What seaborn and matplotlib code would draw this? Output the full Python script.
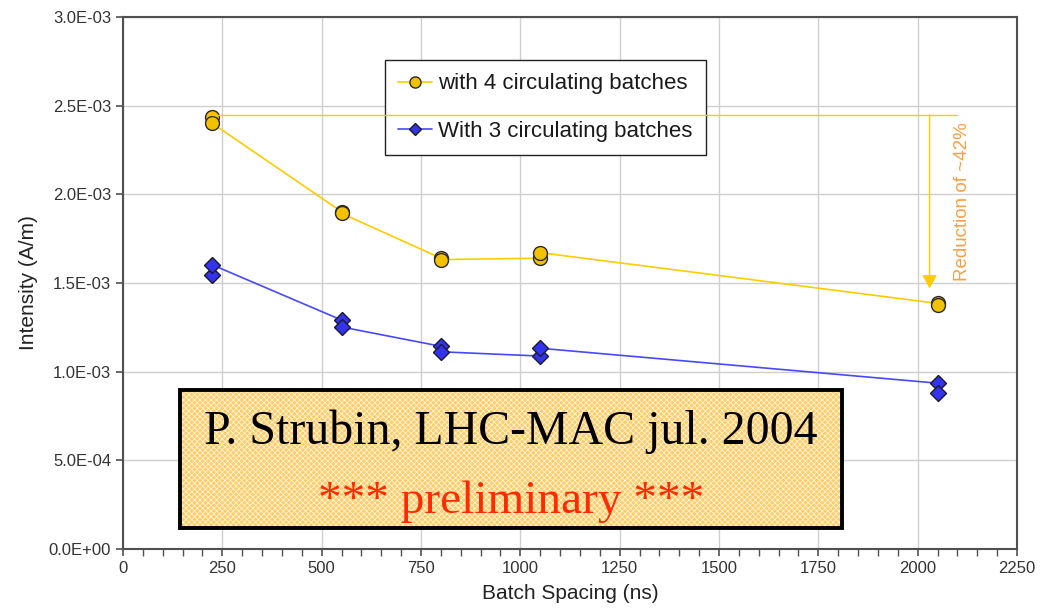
import matplotlib
matplotlib.use("Agg")
import matplotlib.pyplot as plt
import seaborn as sns
import pandas as pd
from matplotlib.patches import Rectangle
from matplotlib.lines import Line2D
from matplotlib.ticker import MultipleLocator, FuncFormatter

# ---- data (in drawing order of each series' line) ----
batch_spacing = [225, 225, 550, 550, 800, 800, 1050, 1050, 2050, 2050]
intensity_4 = [2.435e-3, 2.400e-3, 1.902e-3, 1.893e-3, 1.640e-3, 1.632e-3,
               1.640e-3, 1.671e-3, 1.385e-3, 1.376e-3]
intensity_3 = [1.545e-3, 1.602e-3, 1.291e-3, 1.252e-3, 1.143e-3, 1.112e-3,
               1.088e-3, 1.132e-3, 0.935e-3, 0.882e-3]
label_4 = "with 4 circulating batches"
label_3 = "With 3 circulating batches"
ref_level = 2.448e-3          # reference level for the reduction arrow
arrow_x = 2030
arrow_end = 1.47e-3
ref_line_end = 2100
reduction_text = "Reduction of ~42%"
note_line1 = "P. Strubin, LHC-MAC jul. 2004"
note_line2 = "*** preliminary ***"

sns.set_style("white")
plt.rcParams['font.family'] = ['Liberation Sans', 'DejaVu Sans']

fig = plt.figure(figsize=(10.55, 6.14), dpi=100)
ax = fig.add_axes([0.1166, 0.1059, 0.8474, 0.8664])

yellow_line = "#FFCC00"
yellow_face = "#F2C200"
blue_line = "#4848FF"
blue_face = "#3333EE"

df4 = pd.DataFrame({"x": batch_spacing, "y": intensity_4})
df3 = pd.DataFrame({"x": batch_spacing, "y": intensity_3})

sns.lineplot(data=df4, x="x", y="y", ax=ax, sort=False, estimator=None,
             color=yellow_line, lw=1.2, marker="o", markersize=10,
             markerfacecolor=yellow_face, markeredgecolor="#2a2a2a",
             markeredgewidth=1.0, zorder=4)
sns.lineplot(data=df3, x="x", y="y", ax=ax, sort=False, estimator=None,
             color=blue_line, lw=1.2, marker="D", markersize=8,
             markerfacecolor=blue_face, markeredgecolor="#1a1a2a",
             markeredgewidth=1.0, zorder=4)

ax.set_xlim(0, 2250)
ax.set_ylim(0, 3.0e-3)
ax.xaxis.set_major_locator(MultipleLocator(250))
ax.xaxis.set_minor_locator(MultipleLocator(50))
ax.yaxis.set_major_locator(MultipleLocator(0.5e-3))
ax.yaxis.set_major_formatter(FuncFormatter(lambda v, p: f"{v:.1E}"))

ax.grid(True, which="major", color="#CFCFCF", lw=1.0)
ax.set_axisbelow(True)
for s in ax.spines.values():
    s.set_color("#505050")
    s.set_linewidth(1.5)
ax.tick_params(axis="both", which="major", direction="out", length=5,
               width=1.2, color="#505050", labelsize=12, labelcolor="#333333")
ax.tick_params(axis="x", which="minor", direction="out", length=5,
               width=1.0, color="#505050", bottom=True)
ax.tick_params(axis="x", which="both", bottom=True)
ax.tick_params(axis="y", which="both", left=True)

ax.set_xlabel("Batch Spacing (ns)", fontsize=15, color="#222222", labelpad=6)
ax.set_ylabel("Intensity (A/m)", fontsize=15, color="#222222", labelpad=8)

# legend
handles = [
    Line2D([0], [0], color=yellow_line, lw=1.2, marker="o", markersize=8,
           markerfacecolor=yellow_face, markeredgecolor="#2a2a2a"),
    Line2D([0], [0], color=blue_line, lw=1.2, marker="D", markersize=6.5,
           markerfacecolor=blue_face, markeredgecolor="#1a1a2a"),
]
leg = ax.legend(handles, [label_4, label_3], loc="upper left",
                bbox_to_anchor=(0.293, 0.919), borderaxespad=0,
                fontsize=16, frameon=True, fancybox=False,
                edgecolor="#222222", framealpha=1, handlelength=1.5,
                handletextpad=0.3, labelspacing=1.2, borderpad=0.6)
leg.get_frame().set_linewidth(1.0)
for t in leg.get_texts():
    t.set_color("#1a1a1a")

# reduction annotation
ax.plot([batch_spacing[0], ref_line_end], [ref_level, ref_level],
        color=yellow_line, lw=1.0, zorder=6)
ax.annotate("", xy=(arrow_x, arrow_end), xytext=(arrow_x, ref_level),
            arrowprops=dict(arrowstyle="-|>,head_length=0.8,head_width=0.45",
                            mutation_scale=10,
                            color=yellow_line, lw=1.0, shrinkA=0, shrinkB=0),
            zorder=6)
ax.text(2114, 1.96e-3, reduction_text, rotation=90, color="#F9A048",
        fontsize=13.5, ha="center", va="center")

# note box
plt.rcParams['hatch.linewidth'] = 0.6
bx, by, bw, bh = 0.0638, 0.0395, 0.7405, 0.259
ax.add_patch(Rectangle((bx, by), bw, bh, transform=ax.transAxes,
                       facecolor="#FFCC66", edgecolor="#FFF4DC", hatch="xxxxxx",
                       lw=0, zorder=7))
ax.add_patch(Rectangle((bx, by), bw, bh, transform=ax.transAxes,
                       facecolor="none", edgecolor="black", lw=2.8, zorder=8))
ax.text(bx + bw / 2, by + bh * 0.61, note_line1, transform=ax.transAxes,
        family=["Liberation Serif"], fontsize=34.5, color="black",
        ha="center", va="baseline", zorder=9)
ax.text(bx + bw / 2, by + bh * 0.105, note_line2, transform=ax.transAxes,
        family=["Liberation Serif"], fontsize=34, color="#FF2A00",
        ha="center", va="baseline", zorder=9)

fig.savefig("out.png", dpi=100)
